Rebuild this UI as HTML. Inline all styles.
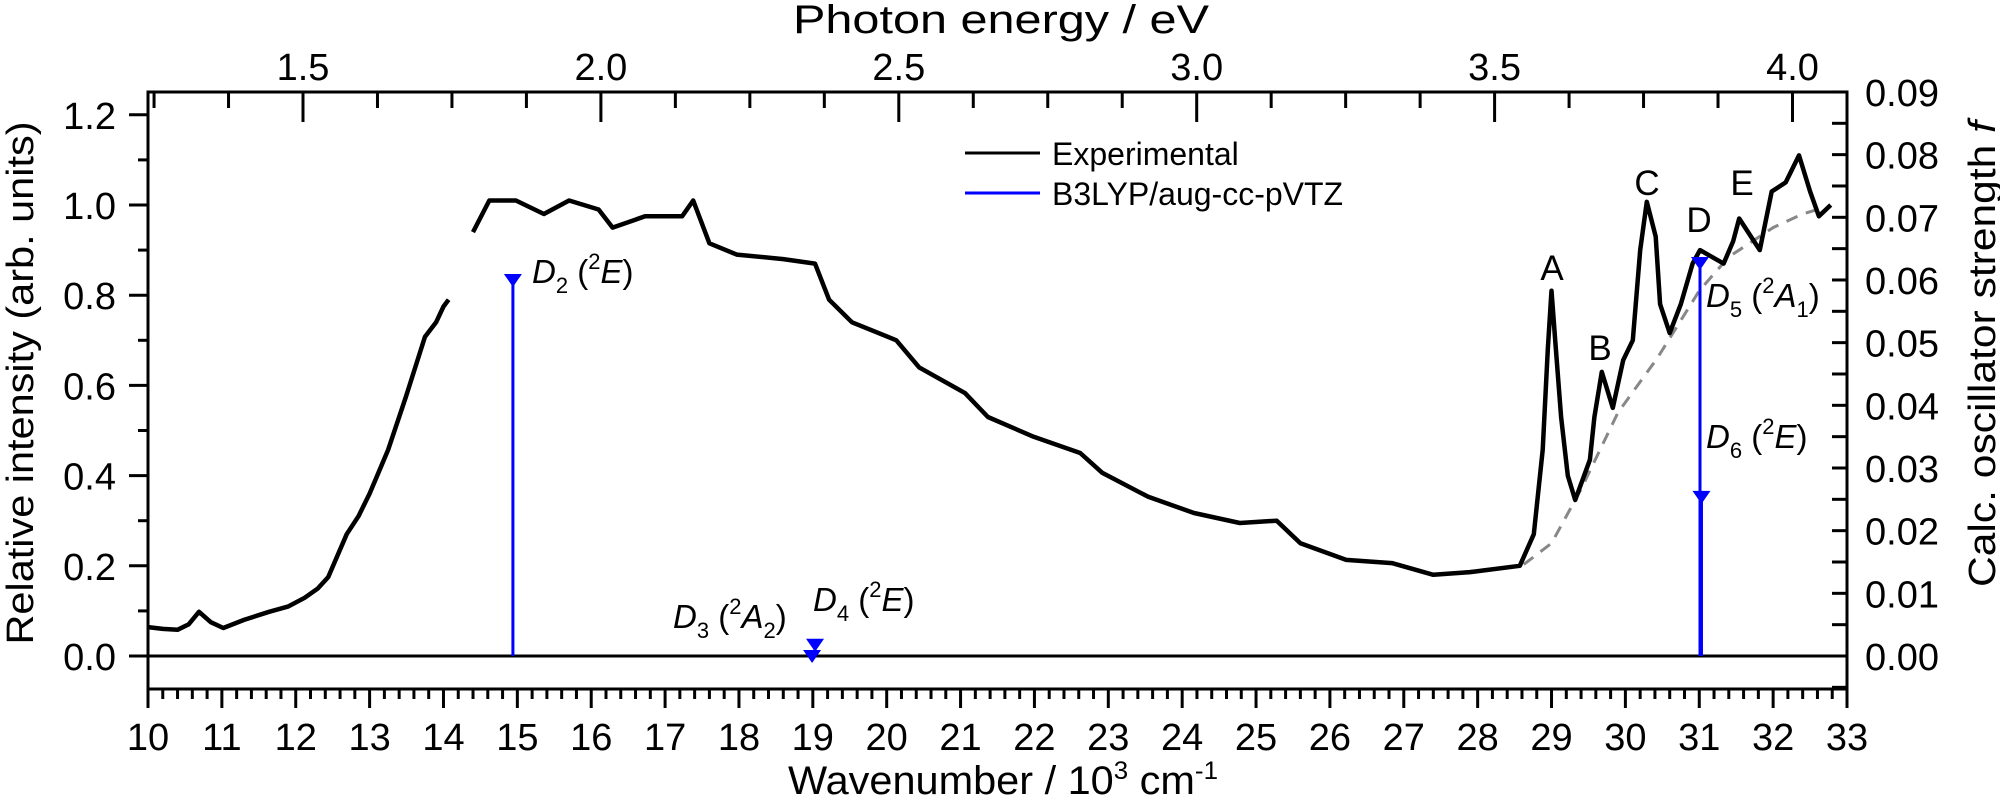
<!DOCTYPE html>
<html><head><meta charset="utf-8"><style>
html,body{margin:0;padding:0;background:#fff;}
svg{display:block;font-family:"Liberation Sans",Arial,sans-serif;}
</style></head><body>
<svg id="chart" width="2000" height="801" viewBox="0 0 2000 801" xmlns="http://www.w3.org/2000/svg">
<g id="ticks"></g>
<g id="marks"></g>
<rect x="148" y="92" width="1699" height="597" fill="none" stroke="#000" stroke-width="3"/>
<text x="1001" y="33" font-size="40" text-anchor="middle" textLength="416" lengthAdjust="spacingAndGlyphs">Photon energy / eV</text>
<text x="1003" y="794" font-size="40" text-anchor="middle" textLength="430" lengthAdjust="spacingAndGlyphs">Wavenumber / 10<tspan font-size="25" dy="-15">3</tspan><tspan dy="15"> cm</tspan><tspan font-size="25" dy="-15">-1</tspan></text>
<text transform="translate(33,383) rotate(-90)" font-size="38" text-anchor="middle" textLength="523" lengthAdjust="spacingAndGlyphs">Relative intensity (arb. units)</text>
<text transform="translate(1995,354) rotate(-90)" font-size="38" text-anchor="middle" textLength="466" lengthAdjust="spacingAndGlyphs">Calc. oscillator strength <tspan font-style="italic">f</tspan></text>
<g>
<line x1="965" y1="153" x2="1040" y2="153" stroke="#000" stroke-width="3"/>
<text x="1052" y="165" font-size="32">Experimental</text>
<line x1="965" y1="193" x2="1040" y2="193" stroke="#0000ff" stroke-width="3"/>
<text x="1052" y="205" font-size="32">B3LYP/aug-cc-pVTZ</text>
</g>
<g font-size="35" text-anchor="middle">
<text x="1552" y="280">A</text>
<text x="1600" y="360">B</text>
<text x="1647" y="195">C</text>
<text x="1699" y="232">D</text>
<text x="1742" y="195">E</text>
</g>
<g font-size="33">
<text x="532" y="283"><tspan font-style="italic">D</tspan><tspan font-size="22" dy="10">2</tspan><tspan dy="-10"> (</tspan><tspan font-size="22" dy="-14">2</tspan><tspan font-style="italic" dy="14">E</tspan>)</text>
<text x="673" y="628"><tspan font-style="italic">D</tspan><tspan font-size="22" dy="10">3</tspan><tspan dy="-10"> (</tspan><tspan font-size="22" dy="-14">2</tspan><tspan font-style="italic" dy="14">A</tspan><tspan font-size="22" dy="10">2</tspan><tspan dy="-10">)</tspan></text>
<text x="813" y="611"><tspan font-style="italic">D</tspan><tspan font-size="22" dy="10">4</tspan><tspan dy="-10"> (</tspan><tspan font-size="22" dy="-14">2</tspan><tspan font-style="italic" dy="14">E</tspan>)</text>
<text x="1706" y="307"><tspan font-style="italic">D</tspan><tspan font-size="22" dy="10">5</tspan><tspan dy="-10"> (</tspan><tspan font-size="22" dy="-14">2</tspan><tspan font-style="italic" dy="14">A</tspan><tspan font-size="22" dy="10">1</tspan><tspan dy="-10">)</tspan></text>
<text x="1706" y="448"><tspan font-style="italic">D</tspan><tspan font-size="22" dy="10">6</tspan><tspan dy="-10"> (</tspan><tspan font-size="22" dy="-14">2</tspan><tspan font-style="italic" dy="14">E</tspan>)</text>
</g>
</svg>
<script>
// ---- data ----
const expK = [10.0,10.2,10.4,10.55,10.69,10.85,11.02,11.3,11.64,11.9,12.12,12.3,12.44,12.69,12.85,13.0,13.25,13.49,13.75,13.9,14.0,14.07,null,14.4,14.62,14.98,15.36,15.7,16.1,16.29,16.73,17.23,17.38,17.6,17.97,18.6,19.03,19.22,19.53,20.13,20.44,21.06,21.37,21.99,22.62,22.92,23.54,24.16,24.78,25.28,25.6,26.22,26.84,27.4,27.9,28.57,28.76,28.88,28.95,29.0,29.05,29.13,29.22,29.32,29.52,29.58,29.68,29.83,29.97,30.1,30.2,30.29,30.41,30.47,30.6,30.75,30.91,31.01,31.33,31.46,31.54,31.82,31.98,32.17,32.35,32.5,32.62,32.78];
const expVal = [0.064,0.06,0.058,0.07,0.098,0.075,0.062,0.08,0.098,0.11,0.129,0.15,0.175,0.27,0.31,0.36,0.457,0.574,0.708,0.74,0.775,0.79,null,0.94,1.01,1.01,0.98,1.01,0.99,0.95,0.975,0.975,1.01,0.915,0.89,0.88,0.87,0.79,0.74,0.70,0.64,0.583,0.53,0.486,0.45,0.406,0.353,0.317,0.295,0.30,0.25,0.213,0.206,0.18,0.186,0.2,0.27,0.457,0.68,0.81,0.70,0.53,0.40,0.346,0.435,0.53,0.63,0.55,0.656,0.70,0.90,1.007,0.93,0.78,0.716,0.78,0.87,0.90,0.87,0.92,0.97,0.90,1.03,1.05,1.11,1.03,0.975,1.0];
const baseK = [27.5,28.0,28.6,29.0,29.4,29.9,30.43,31.0,31.4,32.0,32.4,32.6];
const baseVal = [0.18,0.19,0.2,0.25,0.37,0.54,0.66,0.81,0.885,0.95,0.98,0.99];
const stateNames = ['D2','D3','D4','D5','D6'];
const stateK = [14.94,18.99,19.03,31.01,31.03];
const stateF = [0.060,0.0,0.0018,0.0627,0.0254];
const bottomTicks = [10,11,12,13,14,15,16,17,18,19,20,21,22,23,24,25,26,27,28,29,30,31,32,33];
const topTickLabels = ['1.5','2.0','2.5','3.0','3.5','4.0'];
const leftTickLabels = ['0.0','0.2','0.4','0.6','0.8','1.0','1.2'];
const rightTickLabels = ['0.00','0.01','0.02','0.03','0.04','0.05','0.06','0.07','0.08','0.09'];

// ---- axes ----
const X0=148, X1=1847, Y0=656, PX=(1847-148)/23, PY=451, PF=6267;
const xk = k => X0 + (k-10)*PX;
const yv = v => Y0 - v*PY;
const yf = f => Y0 - f*PF;
const NS='http://www.w3.org/2000/svg';
const ticks=document.getElementById('ticks'), marks=document.getElementById('marks');
function mk(tag, attrs, parent){const e=document.createElementNS(NS,tag);for(const a in attrs)e.setAttribute(a,attrs[a]);parent.appendChild(e);return e;}

for(let i=0;i<=115;i++){const k=10+i*0.2;const major=i%5===0;
 const t=mk('line',{x1:xk(k),x2:xk(k),y1:689,y2:689+(major?19:10),stroke:'#000','stroke-width':3},ticks);
 
 }
bottomTicks.forEach(k=>{const t=mk('text',{x:xk(k),y:750,'font-size':38,'text-anchor':'middle'},ticks);t.textContent=k;
 
 });
for(let i=0;i<=22;i++){const ev=1.25+i*0.125;const x=xk(ev*8.06554);if(x>X1)break;const major=(i%4===2);
 const t=mk('line',{x1:x,x2:x,y1:92,y2:92+(major?30:16),stroke:'#000','stroke-width':3},ticks);
 
 }
topTickLabels.forEach(s=>{const t=mk('text',{x:xk(parseFloat(s)*8.06554),y:80,'font-size':38,'text-anchor':'middle'},ticks);t.textContent=s;
 
 });
for(let i=0;i<=12;i++){const v=i*0.1;const major=i%2===0;
 const t=mk('line',{x1:X0-(major?19:10),x2:X0,y1:yv(v),y2:yv(v),stroke:'#000','stroke-width':3},ticks);
 
 }
leftTickLabels.forEach(s=>{const t=mk('text',{x:116,y:yv(parseFloat(s))+14,'font-size':38,'text-anchor':'end'},ticks);t.textContent=s;
 
 });
for(let i=-1;i<=18;i++){const f=i*0.005;
 const t=mk('line',{x1:X1-15,x2:X1,y1:yf(f),y2:yf(f),stroke:'#000','stroke-width':3},ticks);
 
 }
rightTickLabels.forEach(s=>{const t=mk('text',{x:1865,y:yf(parseFloat(s))+14,'font-size':38},ticks);t.textContent=s;
 
 });

const z=mk('line',{x1:X0,x2:X1,y1:Y0,y2:Y0,stroke:'#000','stroke-width':3},marks);



let bd='';baseK.forEach((k,i)=>{bd+=(i?'L':'M')+xk(k).toFixed(1)+','+yv(baseVal[i]).toFixed(1);});
const bp=mk('path',{d:bd,fill:'none',stroke:'#888','stroke-width':3,'stroke-dasharray':'12,9'},marks);



let d='',pen=false;expK.forEach((k,i)=>{if(k===null){pen=false;return;}d+=(pen?'L':'M')+xk(k).toFixed(1)+','+yv(expVal[i]).toFixed(1);pen=true;});
const ep=mk('path',{d:d,fill:'none',stroke:'#000','stroke-width':4.5,'stroke-linejoin':'round'},marks);



stateK.forEach((k,i)=>{const x=xk(k),y=yf(stateF[i]);
 const l=mk('line',{x1:x,x2:x,y1:Y0,y2:y,stroke:'#0000ff','stroke-width':3},marks);
 
 
 const m=mk('path',{d:`M${x-9},${y-6}L${x+9},${y-6}L${x},${y+7}Z`,fill:'#0000ff'},marks);
 
 });
</script>
</body></html>
